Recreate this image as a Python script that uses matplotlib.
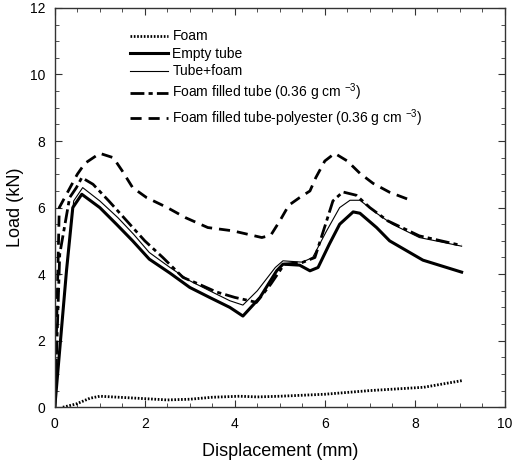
import numpy as np
import matplotlib
matplotlib.use('Agg')
import matplotlib.pyplot as plt
from matplotlib.ticker import MultipleLocator

plt.rcParams['font.family'] = ['Liberation Sans', 'DejaVu Sans']
plt.rcParams['mathtext.default'] = 'regular'

# Foam
foam_x = [0.18, 0.48, 0.78, 1.0, 1.7, 2.5, 3.0, 3.5, 4.1, 4.5, 5.0, 6.0, 7.0, 8.2, 9.05]
foam_y = [0.0, 0.1, 0.27, 0.33, 0.28, 0.22, 0.24, 0.3, 0.33, 0.31, 0.33, 0.39, 0.5, 0.6, 0.8]

# Empty tube
empty_x = [0.0, 0.26, 0.4, 0.6, 1.0, 1.37, 1.73, 2.1, 2.56, 3.0, 3.44, 3.89, 4.18, 4.56, 4.93,
           5.07, 5.44, 5.67, 5.85, 6.1, 6.33, 6.63, 6.78, 7.15, 7.44, 8.18, 9.04]
empty_y = [0.0, 4.1, 6.0, 6.4, 6.0, 5.5, 5.0, 4.45, 4.03, 3.6, 3.3, 3.0, 2.74, 3.3, 4.1,
           4.3, 4.27, 4.1, 4.2, 4.9, 5.5, 5.87, 5.83, 5.4, 5.0, 4.42, 4.06]

# Tube+foam
tf_x = [0.0, 0.28, 0.42, 0.62, 1.0, 1.4, 1.75, 2.1, 2.56, 3.0, 3.44, 3.89, 4.18, 4.5, 4.9,
        5.07, 5.5, 5.73, 6.04, 6.33, 6.56, 6.78, 7.15, 7.5, 8.1, 9.04]
tf_y = [0.0, 4.4, 6.2, 6.6, 6.2, 5.7, 5.2, 4.65, 4.2, 3.8, 3.5, 3.2, 3.07, 3.5, 4.2,
        4.4, 4.36, 4.5, 5.3, 6.0, 6.22, 6.22, 5.83, 5.5, 5.1, 4.84]

# Foam filled tube (0.36 g cm-3)
fft_x = [0.0, 0.11, 0.33, 0.48, 0.6, 0.85, 1.2, 1.6, 2.0, 2.4, 2.85, 3.2, 3.6, 4.0, 4.33,
         4.48, 4.8, 5.1, 5.5, 5.78, 6.04, 6.18, 6.4, 6.7, 7.0, 7.4, 8.1, 9.04]
fft_y = [0.0, 4.6, 6.3, 6.6, 6.9, 6.7, 6.2, 5.6, 5.0, 4.5, 3.9, 3.7, 3.46, 3.3, 3.2,
         3.15, 3.7, 4.3, 4.35, 4.5, 5.6, 6.2, 6.47, 6.37, 6.0, 5.6, 5.15, 4.86]

# Foam filled tube-polyester (0.36 g cm-3)
poly_x = [0.0, 0.1, 0.3, 0.5, 0.67, 1.0, 1.3, 1.5, 1.73, 2.04, 2.5, 2.9, 3.4, 3.96, 4.6,
          4.8, 5.0, 5.2, 5.44, 5.67, 5.8, 6.0, 6.22, 6.5, 6.78, 7.07, 7.44, 7.85]
poly_y = [0.0, 6.0, 6.5, 7.0, 7.33, 7.63, 7.5, 7.1, 6.6, 6.3, 6.0, 5.7, 5.4, 5.3, 5.1,
          5.17, 5.6, 6.07, 6.3, 6.5, 6.9, 7.4, 7.63, 7.4, 7.03, 6.73, 6.46, 6.25]

fig = plt.figure(figsize=(5.12, 4.67), dpi=100)
ax = fig.add_axes([0.107, 0.128, 0.879, 0.855])

ax.plot(foam_x, foam_y, color='black', lw=2.0, linestyle=(0, (0.6, 0.6)), label='Foam')
ax.plot(empty_x, empty_y, color='black', lw=2.2, label='Empty tube')
ax.plot(tf_x, tf_y, color='black', lw=0.8, label='Tube+foam')
ax.plot(fft_x, fft_y, color='black', lw=2.0, linestyle=(0, (5, 1.5, 1.5, 1.5)),
        label='Foam filled tube (0.36 g cm $^{-3}$)')
ax.plot(poly_x, poly_y, color='black', lw=2.0, linestyle=(0, (4, 2.5)),
        label='Foam filled tube-polyester (0.36 g cm $^{-3}$)')

ax.set_xlim(0, 10)
ax.set_ylim(0, 12)
ax.xaxis.set_major_locator(MultipleLocator(2))
ax.xaxis.set_minor_locator(MultipleLocator(0.5))
ax.yaxis.set_major_locator(MultipleLocator(2))
ax.yaxis.set_minor_locator(MultipleLocator(0.5))
ax.tick_params(which='both', direction='in', top=True, right=True, labelsize=10, color='#333333')
ax.tick_params(which='major', length=5, pad=7)
ax.tick_params(which='minor', length=3)
for s in ax.spines.values():
    s.set_linewidth(1.0)
    s.set_color('#333333')

ax.set_xlabel('Displacement (mm)', fontsize=13, labelpad=9)
ax.set_ylabel('Load (kN)', fontsize=13, labelpad=4)

ax.legend(loc='upper left', bbox_to_anchor=(0.155, 0.96), frameon=False, fontsize=10,
          handlelength=2.7, handletextpad=0.35, labelspacing=0.25, borderaxespad=0)

fig.savefig('out.png', dpi=100)
